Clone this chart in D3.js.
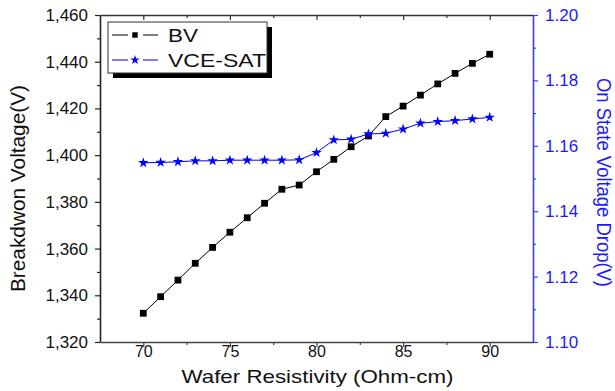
<!DOCTYPE html>
<html>
<head>
<meta charset="utf-8">
<script src="https://cdn.jsdelivr.net/npm/d3@7"></script>
<style>
  html, body { margin: 0; padding: 0; background: #fff; }
  svg text { font-family: "Liberation Sans", Arial, sans-serif; }
</style>
</head>
<body>
<svg id="chart" width="615" height="391"></svg>
<script>
// Wafer resistivity (Ohm-cm)
const resistivity = [70, 71, 72, 73, 74, 75, 76, 77, 78, 79, 80, 81, 82, 83, 84, 85, 86, 87, 88, 89, 90];
// Breakdown voltage (V), left axis
const breakdownV = [1332.3, 1339.4, 1346.5, 1353.7, 1360.5, 1367.0, 1373.2, 1379.4, 1385.4, 1387.2,
                    1392.9, 1398.2, 1403.6, 1408.2, 1416.5, 1421.0, 1425.7, 1430.5, 1435.0, 1439.3, 1443.2];
// On-state voltage drop VCE(sat) (V), right axis
const vceSat = [1.1548, 1.1549, 1.1551, 1.1554, 1.1554, 1.1556, 1.1556, 1.1556, 1.1556, 1.1557,
                1.1579, 1.1618, 1.1620, 1.1636, 1.1638, 1.1651, 1.1669, 1.1674, 1.1677, 1.1682, 1.1687];

const xTicks = [70, 75, 80, 85, 90];
const xMinorTicks = [72.5, 77.5, 82.5, 87.5];
const leftTicks = [1320, 1340, 1360, 1380, 1400, 1420, 1440, 1460];
const rightTicks = [1.10, 1.12, 1.14, 1.16, 1.18, 1.20];
const seriesNames = ["BV", "VCE-SAT"];

const svg = d3.select("#chart");
const m = { left: 100, right: 533, top: 15, bottom: 342 };
const blue = "#0000ff";
const axisBlue = "#3b3bff";
const textBlue = "#1a1aff";

const x = d3.scaleLinear().domain([67.5, 92.5]).range([m.left, m.right]);
const yL = d3.scaleLinear().domain([1320, 1460]).range([m.bottom, m.top]);
const yR = d3.scaleLinear().domain([1.10, 1.20]).range([m.bottom, m.top]);

const fmtL = d3.format(",d");
const fmtR = d3.format(".2f");

function styleAxis(g, color) {
  g.select(".domain").attr("stroke", color).attr("stroke-width", 1.6);
  g.selectAll(".tick line").attr("stroke", color).attr("stroke-width", 1.2);
  g.selectAll(".tick text").attr("fill", color).attr("font-size", 17);
}
function minorAxis(g, color) {
  g.select(".domain").remove();
  g.selectAll(".tick line").attr("stroke", color).attr("stroke-width", 1.2);
}

// bottom axis (major + minor ticks, outward)
const gB = svg.append("g").attr("transform", `translate(0,${m.bottom})`)
  .call(d3.axisBottom(x).tickValues(xTicks).tickSize(5).tickSizeOuter(0).tickPadding(-1).tickFormat(d3.format("d")));
styleAxis(gB, "#444");
gB.selectAll(".tick text").attr("fill", "#111").attr("font-size", 16);
svg.append("g").attr("transform", `translate(0,${m.bottom})`)
  .call(d3.axisBottom(x).tickValues(xMinorTicks).tickSize(3).tickSizeOuter(0).tickFormat(""))
  .call(g => minorAxis(g, "#444"));

// top axis (ticks inward, no labels)
const gT = svg.append("g").attr("transform", `translate(0,${m.top})`)
  .call(d3.axisBottom(x).tickValues(xTicks).tickSize(5).tickSizeOuter(0).tickFormat(""));
styleAxis(gT, "#333");
svg.append("g").attr("transform", `translate(0,${m.top})`)
  .call(d3.axisBottom(x).tickValues(xMinorTicks).tickSize(3).tickSizeOuter(0).tickFormat(""))
  .call(g => minorAxis(g, "#333"));

// left axis
const gL = svg.append("g").attr("transform", `translate(${m.left},0)`)
  .call(d3.axisLeft(yL).tickValues(leftTicks).tickSize(5).tickSizeOuter(0).tickPadding(7).tickFormat(fmtL));
styleAxis(gL, "#222");
gL.selectAll(".tick text").attr("fill", "#111");
svg.append("g").attr("transform", `translate(${m.left},0)`)
  .call(d3.axisLeft(yL).tickValues(leftTicks.slice(0, -1).map(v => v + 10)).tickSize(3).tickSizeOuter(0).tickFormat(""))
  .call(g => minorAxis(g, "#222"));

// right axis (blue)
const gR = svg.append("g").attr("transform", `translate(${m.right},0)`)
  .call(d3.axisRight(yR).tickValues(rightTicks).tickSize(5).tickSizeOuter(0).tickPadding(7).tickFormat(fmtR));
styleAxis(gR, axisBlue);
gR.selectAll(".tick text").attr("fill", textBlue);
svg.append("g").attr("transform", `translate(${m.right},0)`)
  .call(d3.axisRight(yR).tickValues(rightTicks.slice(0, -1).map(v => v + 0.01)).tickSize(3).tickSizeOuter(0).tickFormat(""))
  .call(g => minorAxis(g, axisBlue));

// axis titles
svg.append("text").attr("x", 317.5).attr("y", 383)
  .attr("text-anchor", "middle").attr("font-size", 19).attr("fill", "#111")
  .attr("textLength", 272).attr("lengthAdjust", "spacingAndGlyphs")
  .text("Wafer Resistivity (Ohm-cm)");
svg.append("text").attr("transform", `translate(25,188.5) rotate(-90)`)
  .attr("text-anchor", "middle").attr("font-size", 21).attr("fill", "#111")
  .attr("textLength", 207).attr("lengthAdjust", "spacingAndGlyphs")
  .text("Breakdwon Voltage(V)");
svg.append("text").attr("transform", `translate(597,182.5) rotate(90)`)
  .attr("text-anchor", "middle").attr("font-size", 20).attr("fill", textBlue)
  .attr("textLength", 209).attr("lengthAdjust", "spacingAndGlyphs")
  .text("On State Voltage Drop(V)");

// series
const bvData = resistivity.map((r, i) => [r, breakdownV[i]]);
const vceData = resistivity.map((r, i) => [r, vceSat[i]]);

svg.append("path").datum(bvData)
  .attr("fill", "none").attr("stroke", "#000").attr("stroke-width", 1)
  .attr("d", d3.line().x(d => x(d[0])).y(d => yL(d[1])));
svg.append("path").datum(vceData)
  .attr("fill", "none").attr("stroke", blue).attr("stroke-width", 1)
  .attr("d", d3.line().x(d => x(d[0])).y(d => yR(d[1])));

const square = d3.symbol().type(d3.symbolSquare).size(46);
const star = d3.symbol().type(d3.symbolStar).size(34);

svg.append("g").selectAll("path").data(bvData).join("path")
  .attr("transform", d => `translate(${x(d[0])},${yL(d[1])})`)
  .attr("d", square).attr("fill", "#000");
svg.append("g").selectAll("path").data(vceData).join("path")
  .attr("transform", d => `translate(${x(d[0])},${yR(d[1])})`)
  .attr("d", star).attr("fill", blue);

// legend with drop shadow
const lg = svg.append("g");
const lx = 108, ly = 22, lw = 159, lh = 51;
lg.append("rect").attr("x", lx + 5).attr("y", ly + 5).attr("width", lw).attr("height", lh).attr("fill", "#000");
lg.append("rect").attr("x", lx).attr("y", ly).attr("width", lw).attr("height", lh)
  .attr("fill", "#fff").attr("stroke", "#333").attr("stroke-width", 1);

const legendItems = [
  { name: seriesNames[0], color: "#000", sym: d3.symbol().type(d3.symbolSquare).size(30), y: 35, len: 30 },
  { name: seriesNames[1], color: blue, sym: d3.symbol().type(d3.symbolStar).size(28), y: 60, len: 98 }
];
legendItems.forEach(it => {
  lg.append("line").attr("x1", lx + 4).attr("x2", lx + 20).attr("y1", it.y).attr("y2", it.y)
    .attr("stroke", it.color).attr("stroke-width", 1);
  lg.append("line").attr("x1", lx + 35).attr("x2", lx + 50).attr("y1", it.y).attr("y2", it.y)
    .attr("stroke", it.color).attr("stroke-width", 1);
  lg.append("path").attr("transform", `translate(${lx + 27},${it.y})`).attr("d", it.sym).attr("fill", it.color);
  lg.append("text").attr("x", lx + 60).attr("y", it.y + 7).attr("font-size", 19).attr("fill", "#111")
    .attr("textLength", it.len).attr("lengthAdjust", "spacingAndGlyphs")
    .text(it.name);
});
</script>
</body>
</html>
